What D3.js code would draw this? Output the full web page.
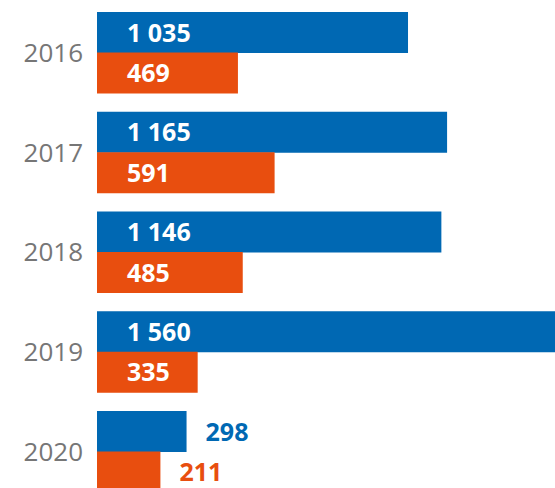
<!DOCTYPE html>
<html>
<head>
<meta charset="utf-8">
<title>Bars 2016-2020</title>
<script src="https://d3js.org/d3.v7.min.js"></script>
<style>
    html, body { margin: 0; padding: 0; background: #fff; }
    svg { display: block; font-family: "Open Sans", sans-serif; }
</style>
</head>
<body>
<svg id="chart" width="555" height="488"></svg>
<script>
    // data
    var years = ["2016", "2017", "2018", "2019", "2020"];
    var blueValues = [1035, 1165, 1146, 1560, 298];
    var orangeValues = [469, 591, 485, 335, 211];
    var series = ["blue", "orange"];

    var w = 555, h = 488;
    var colors = { blue: "#0068b3", orange: "#e84e0f" };

    var rows = years.map(function(y, i) {
        return { year: y, blue: blueValues[i], orange: orangeValues[i] };
    });

    var svg = d3.select("#chart");

    var x = d3.scaleLinear().domain([0, 1000]).range([97, 397.5]);
    var y = d3.scaleBand().domain(years).range([12, 492]).paddingInner(0.188).paddingOuter(0);
    var ySub = d3.scaleBand().domain(series).range([0, y.bandwidth()]);

    function fmt(v) {
        return d3.format(",")(v).replace(/,/g, " ");
    }

    // label goes inside the bar only when the bar is wide enough
    function inside(v) { return x(v) - x(0) > 95; }

    var g = svg.selectAll(".grp")
        .data(rows)
        .enter().append("g")
        .attr("class", "grp")
        .attr("transform", function(d) { return "translate(0," + y(d.year) + ")"; });

    // year labels
    g.append("text")
        .attr("x", 83)
        .attr("y", y.bandwidth() / 2 + 9.5)
        .attr("text-anchor", "end")
        .attr("font-size", 26)
        .attr("fill", "#767676")
        .text(function(d) { return d.year; });

    series.forEach(function(s) {
        g.append("rect")
            .attr("x", x(0))
            .attr("y", ySub(s))
            .attr("width", function(d) { return x(d[s]) - x(0); })
            .attr("height", ySub.bandwidth() + 0.5)
            .attr("fill", colors[s]);

        g.append("text")
            .attr("x", function(d) { return inside(d[s]) ? x(0) + 30 : x(d[s]) + 19; })
            .attr("y", ySub(s) + ySub.bandwidth() / 2 + 9.5)
            .attr("font-size", 25)
            .attr("font-weight", "bold")
            .attr("fill", function(d) { return inside(d[s]) ? "#fff" : colors[s]; })
            .text(function(d) { return fmt(d[s]); });
    });
</script>
</body>
</html>
